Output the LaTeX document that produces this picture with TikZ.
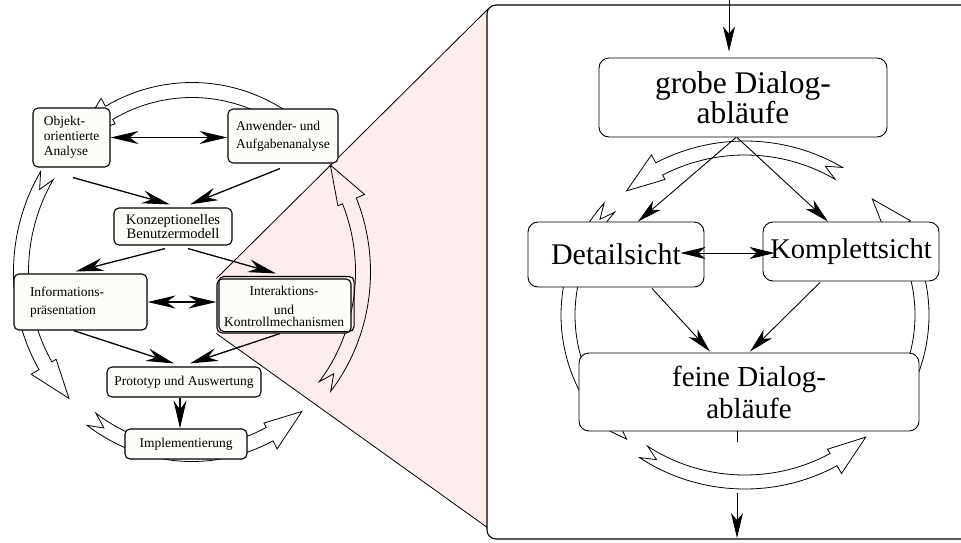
\documentclass[tikz,border=0pt]{standalone}
\usepackage{fontspec}
\setmainfont{Liberation Serif}
\usetikzlibrary{arrows.meta,calc,backgrounds}

\definecolor{zoomfill}{RGB}{253,237,237}
\definecolor{boxfill}{RGB}{253,252,249}

% Hollow curved arrow along an ellipse:
% #1 cx, #2 cy, #3 rx, #4 ry, #5 half width, #6 tail angle, #7 tip angle
\newcommand{\cyclearrow}[7]{%
  \pgfmathsetmacro{\cyhb}{#7-13}%
  \pgfmathsetmacro{\cynt}{#6+5}%
  \draw[cycarrow]
    plot[domain=#6:\cyhb,samples=40,smooth] ({#1+(#3+#5)*cos(\x)},{#2-(#4+#5)*sin(\x)})
    -- ({#1+(#3+#5+9)*cos(\cyhb)},{#2-(#4+#5+9)*sin(\cyhb)})
    -- ({#1+#3*cos(#7)},{#2-#4*sin(#7)})
    -- ({#1+(#3-#5-5)*cos(\cyhb)},{#2-(#4-#5-5)*sin(\cyhb)})
    -- plot[domain=\cyhb:#6,samples=40,smooth] ({#1+(#3-#5)*cos(\x)},{#2-(#4-#5)*sin(\x)})
    -- ({#1+#3*cos(\cynt)},{#2-#4*sin(\cynt)})
    -- cycle;
}

\tikzset{
  lnode/.style={draw, rounded corners=5pt, fill=boxfill, line width=1.1pt, inner sep=0pt,
    font=\fontsize{13.5}{15}\selectfont},
  rnode/.style={draw, rounded corners=10pt, fill=white, line width=0.9pt, inner sep=0pt,
    align=center, font=\fontsize{30}{30}\selectfont},
  ltip/.tip={Stealth[length=28pt,width=13pt,inset=9pt]},
  rtip/.tip={Stealth[length=25pt,width=12pt,inset=7pt]},
  larrow/.style={line width=1.3pt, -ltip},
  ldouble/.style={line width=1.3pt, ltip-ltip},
  rarrow/.style={line width=0.9pt, -rtip},
  rdouble/.style={line width=0.9pt, rtip-rtip},
  cycarrow/.style={line width=0.8pt, line join=miter},
  panelframe/.style={draw, line width=1.1pt, rounded corners=9pt, fill=white},
  zoomedge/.style={line width=0.8pt}
}

\begin{document}
\begin{tikzpicture}[x=1pt,y=-1pt]
\useasboundingbox (0,0) rectangle (961,542);

% ---------- overview: development cycle ----------
\node[lnode, minimum width=77pt, minimum height=59pt, align=left] (oa) at (71.5,137.5)
  {Objekt-\\orientierte\\Analyse};
\node[lnode, minimum width=110pt, minimum height=54pt, align=left,
  font=\fontsize{13.5}{18}\selectfont] (aw) at (283,136) {Anwender- und\\Aufgabenanalyse};
\node[lnode, minimum width=118pt, minimum height=37pt, align=center,
  font=\fontsize{14.5}{12.5}\selectfont] (kz) at (173,226.5) {Konzeptionelles\\Benutzermodell};
\node[lnode, minimum width=133pt, minimum height=56pt, text width=101pt, align=left,
  font=\fontsize{13.5}{17.5}\selectfont] (inf) at (80.5,302) {Informations-\\präsentation};
\node[lnode, minimum width=134pt, minimum height=54pt, align=center,
  font=\fontsize{13.5}{12}\selectfont] (ik) at (284,306) {Interaktions-\\[7pt]und\\Kontrollmechanismen};
\draw[line width=1.1pt, rounded corners=5pt]
  ($(ik.south west)+(2.5,-2)$) rectangle ($(ik.north east)+(2.5,-2)$);
\node[lnode, minimum width=154pt, minimum height=30pt] (pr) at (184,382) {Prototyp und Auswertung};
\node[lnode, minimum width=122pt, minimum height=30pt] (im) at (186,444) {Implementierung};

\draw[ldouble] (oa.east) -- (oa.east -| aw.west);
\draw[larrow] ($(oa.south)+(1.5,10)$) -- ($(kz.north)+(-3,-3)$);
\draw[larrow] ($(aw.south)+(-3,5)$) -- ($(kz.north)+(17,-3)$);
\draw[larrow] ($(kz.south)+(-8,3)$) -- ($(inf.north)+(-5,-2)$);
\draw[larrow] ($(kz.south)+(15,3)$) -- ($(ik.north)+(-8,-5)$);
\draw[ldouble] (inf.east) -- (inf.east -| ik.west);
\draw[larrow] ($(inf.south)+(-7,0)$) -- ($(pr.north)+(-10,-3)$);
\draw[larrow] ($(ik.south)+(-4,0)$) -- ($(pr.north)+(6,-3)$);
\draw[larrow] ($(pr.south)+(-4,0)$) -- ($(im.north)+(-6,0)$);

% ---------- detail panel ----------
\node[rnode, minimum width=288pt, minimum height=79pt, font=\fontsize{31.5}{30}\selectfont]
  (gr) at (743,97.5) {grobe Dialog-\\abläufe};
\node[rnode, minimum width=176pt, minimum height=65pt] (de) at (616,254.5) {Detailsicht};
\node[rnode, minimum width=176pt, minimum height=59pt, font=\fontsize{28.5}{30}\selectfont]
  (ko) at (851,251.5) {Komplettsicht};
\node[rnode, minimum width=340pt, minimum height=78pt, font=\fontsize{29}{32}\selectfont]
  (fe) at (749,392) {feine Dialog-\\abläufe};

\coordinate (src) at (729,-1);
\coordinate (sink) at (737,538);
\draw[rarrow, shorten >=6pt] (src) -- (src |- gr.north);
\draw[rarrow] ($(gr.south)+(-7,0)$) -- ($(de.north)+(22,0)$);
\draw[rarrow] ($(gr.south)+(-6,0)$) -- ($(ko.north)+(-23,0)$);
\draw[rdouble] ($(de.east)+(-24,-1.5)$) -- ($(ko.west)+(12,1.5)$);
\draw[rarrow] ($(de.south)+(36,1)$) -- ($(fe.north)+(-39,-1)$);
\draw[rarrow] ($(ko.south)+(-31,1)$) -- ($(fe.north)+(1,-1)$);
\draw[line width=0.9pt] ($(fe.south)+(-12,0)$) -- ++(0,11);
\draw[rarrow] ($(fe.south)+(-12,62)$) -- (sink);

% ---------- background: zoom wedge, panel frame, cycle arrows ----------
\begin{scope}[on background layer]
  \coordinate (zt) at (488,9);
  \coordinate (zb) at (488,528);
  \fill[zoomfill] (ik.north west) -- (zt) -- (zb) -- (ik.south west) -- cycle;
  \draw[zoomedge] (ik.north west) -- (zt);
  \draw[zoomedge] (ik.south west) -- (zb);
  \draw[panelframe] (487,5) rectangle (980,539);

  % overview cycle
  \cyclearrow{192}{272}{171}{182}{7.5}{321}{396}
  \cyclearrow{192}{272}{171}{182}{7.5}{45}{132}
  \cyclearrow{192}{272}{171}{182}{7.5}{148}{224}
  \cyclearrow{192}{272}{171}{182}{7.5}{234}{310}

  % detail cycle
  \cyclearrow{745}{315}{177}{167}{7}{58}{132}
  \cyclearrow{745}{315}{177}{167}{7}{140}{228}
  \cyclearrow{745}{315}{177}{167}{7}{235}{313}
  \cyclearrow{745}{315}{177}{167}{7}{-25}{44}
\end{scope}
\end{tikzpicture}
\end{document}
